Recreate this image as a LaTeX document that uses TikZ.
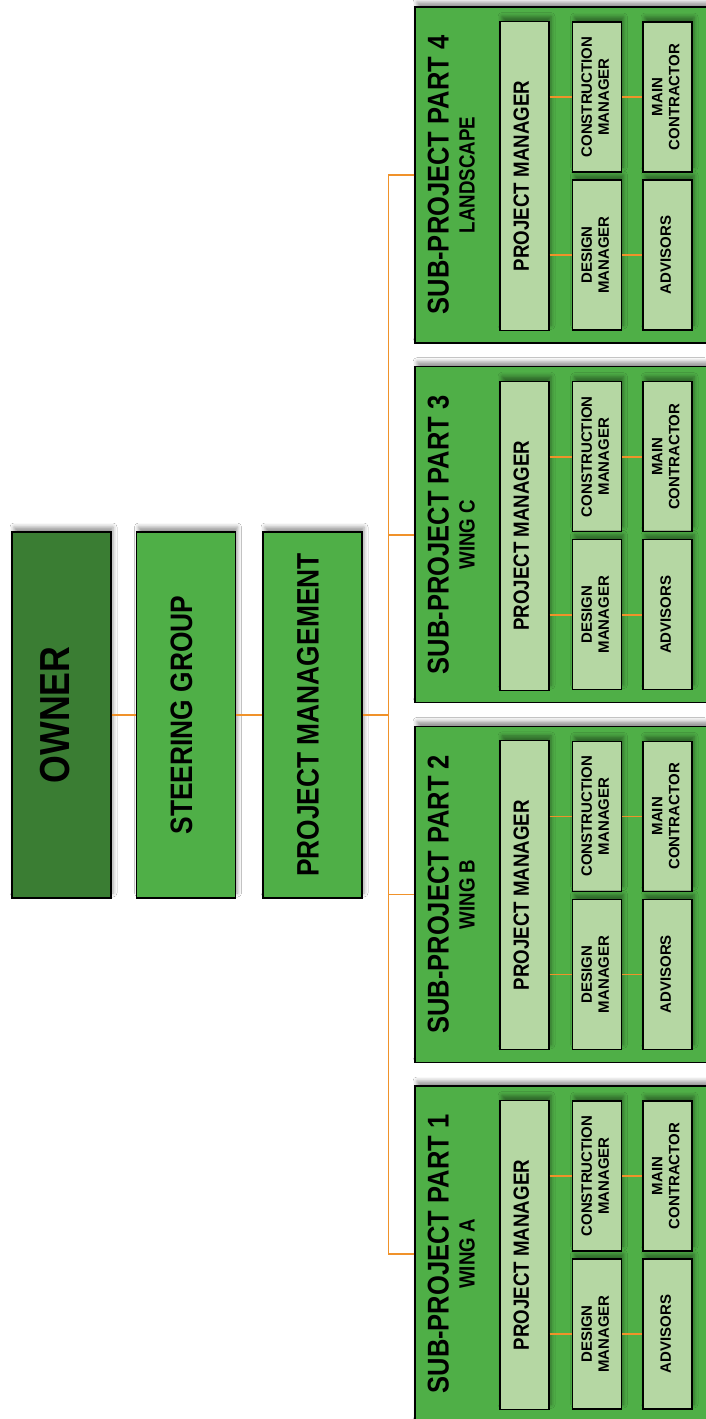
\documentclass[tikz,border=0pt]{standalone}
\usepackage{fontspec}
\setmainfont{Liberation Sans}
\newfontfamily\condfont[FakeStretch=0.85]{Liberation Sans}
\usepackage{graphicx}
\usetikzlibrary{shadows.blur}
\definecolor{ownergreen}{HTML}{3A7D33}
\definecolor{boxgreen}{HTML}{4FAF47}
\definecolor{rolegreen}{HTML}{B5D7A3}
\definecolor{linkorange}{HTML}{F0922A}
\newcommand{\vtext}[1]{\rotatebox{90}{\begin{tabular}{@{}c@{}}#1\end{tabular}}}

\begin{document}
\begin{tikzpicture}[x=1pt,y=-1pt,
    box/.style={draw=black,line width=1.3pt,inner sep=0pt,blur shadow={shadow xshift=2pt,shadow yshift=5pt,shadow blur radius=4pt}},
    topbox/.style={box,fill=boxgreen,minimum width=99pt,minimum height=366pt,font=\condfont\bfseries\fontsize{31}{31}\selectfont},
    subbox/.style={box,fill=boxgreen,minimum width=300pt,minimum height=336pt},
    rolebox/.style={box,fill=rolegreen,line width=1.1pt,minimum width=49pt,minimum height=150pt,font=\bfseries\fontsize{15}{17}\selectfont},
    link/.style={draw=linkorange,line width=1.6pt}]
    \useasboundingbox (0,0) rectangle (705,1419);
    \fill[white] (0,0) rectangle (705,1419);

    \node[topbox,fill=ownergreen,font=\condfont\bfseries\fontsize{42}{42}\selectfont] (owner) at (61.5,715) {\vtext{OWNER}};
    \node[topbox] (steer) at (186,715) {\vtext{STEERING GROUP}};
    \node[topbox] (pmgmt) at (312.5,715) {\vtext{PROJECT MANAGEMENT}};

    \foreach \i/\cy/\wing in {1/1254/WING A,2/894.3/WING B,3/534.7/WING C,4/175/LANDSCAPE}{
      \node[subbox] (sp\i) at (565,\cy) {};
      \node[font=\condfont\bfseries\fontsize{30}{26}\selectfont] (title\i) at (455,\cy) {\vtext{SUB-PROJECT PART \i\\\fontsize{22}{22}\selectfont\wing}};
      \node[rolebox,minimum height=309pt,font=\condfont\bfseries\fontsize{22}{22}\selectfont] (pm\i) at (524.5,\cy+1) {\vtext{PROJECT MANAGER}};
      \node[rolebox] (cm\i) at (597,\cy-78) {\vtext{CONSTRUCTION\\MANAGER}};
      \node[rolebox] (dm\i) at (597,\cy+80) {\vtext{DESIGN\\MANAGER}};
      \node[rolebox] (mc\i) at (667.5,\cy-78) {\vtext{MAIN\\CONTRACTOR}};
      \node[rolebox] (adv\i) at (667.5,\cy+80) {\vtext{ADVISORS}};
      \draw[link] (pm\i.east |- cm\i.west) -- (cm\i.west) (cm\i.east) -- (mc\i.west);
      \draw[link] (pm\i.east |- dm\i.west) -- (dm\i.west) (dm\i.east) -- (adv\i.west);
    }

    \coordinate (bus) at (388.5,715);
    \draw[link] (owner) -- (steer);
    \draw[link] (steer) -- (pmgmt);
    \draw[link] (pmgmt) -- (bus);
    \draw[link] (sp4.west) -| (bus) |- (sp1.west);
    \draw[link] (bus |- sp2.west) -- (sp2.west);
    \draw[link] (bus |- sp3.west) -- (sp3.west);
\end{tikzpicture}
\end{document}
